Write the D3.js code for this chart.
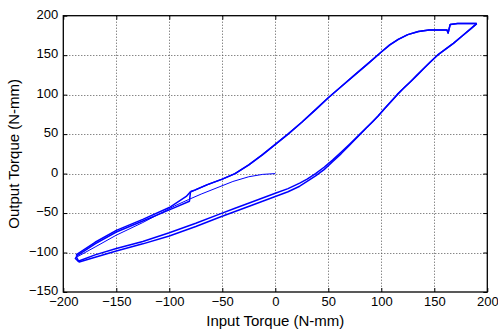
<!DOCTYPE html>
<html>
<head>
<meta charset="utf-8">
<script src="https://cdn.jsdelivr.net/npm/d3@7"></script>
<style>
  body { margin: 0; background: #fff; }
  svg { display: block; font-family: 'Liberation Sans', Arial, sans-serif; }
</style>
</head>
<body>
<div id="chart"></div>
<script>
// axis ticks
const xTicks = [-200, -150, -100, -50, 0, 50, 100, 150, 200];
const yTicks = [-150, -100, -50, 0, 50, 100, 150, 200];

// measured traces, [input torque, output torque] in N-mm
const startTrace = [[0,0],[-12,-1],[-25,-4],[-40,-10],[-55,-18],[-70,-26],[-82,-33],[-95,-41],[-105,-48],
  [-125,-62],[-150,-78],[-170,-93],[-189,-107]];

const lowerBranchA = [[-189,-107],[-186,-111],[-170,-103],[-150,-95],[-125,-86],[-100,-75],[-75,-63],[-52,-51],
  [-38,-44],[-24,-37],[-12,-31],[0,-25],[12,-19],[23,-12],[30,-7],[38,0],[46,8],[54,17],[62,27],[70,37],[80,50],
  [86,58],[92,66],[97,73],[103,82],[109,91],[115,100],[121,108],[128,117],[134,125],[140,133],[146,141],
  [153,150],[160,157],[168,165],[176,174],[184,183],[190,190]];

const lowerBranchB = [[-188,-105],[-185,-112],[-170,-106],[-150,-98],[-125,-89],[-100,-79],[-75,-67],[-52,-55],
  [-38,-48],[-24,-41],[-12,-35],[0,-29],[12,-23],[23,-16],[30,-10],[38,-3],[46,5],[54,15],[62,25],[70,36],[80,50],
  [86,58],[92,66],[97,73],[103,82],[109,91],[115,100],[121,108],[128,117],[134,125],[140,133],[146,141],
  [153,150],[160,157],[168,165],[176,174],[184,183],[190,190]];

const upperBranch = [[190,190],[172,190],[165,189],[163,178],[162,182],[155,182],[145,182],[135,180],[125,176],
  [116,170],[108,163],[100,154],[88,140],[75,125],[62,110],[50,96],[38,81],[25,65],[12,50],[0,37],[-12,24],
  [-25,11],[-38,0],[-50,-7],[-64,-14],[-76,-21],[-80,-23]];

const upperTailA = [[-80,-23],[-81,-35],[-100,-46],[-125,-60],[-150,-74],[-170,-89],[-188,-105]];
const upperTailB = [[-80,-23],[-84,-29],[-100,-43],[-125,-58],[-150,-72],[-170,-87],[-188,-103]];

const traces = [startTrace, lowerBranchA, upperBranch, upperTailA, lowerBranchB, upperBranch, upperTailB];

const width = 498, height = 331;
const margin = {left: 63.3, right: 10.7, top: 15.7, bottom: 39};
const tickLen = 4;

const svg = d3.select('#chart').append('svg')
  .attr('width', width)
  .attr('height', height);

const x = d3.scaleLinear().domain([-200, 200]).range([margin.left, width - margin.right]);
const y = d3.scaleLinear().domain([-150, 200]).range([height - margin.bottom, margin.top]);

// dotted grid
const grid = svg.append('g').attr('class', 'grid')
  .attr('stroke', '#555')
  .attr('stroke-width', 1)
  .attr('stroke-dasharray', '1,2');
grid.selectAll('line.gx').data(xTicks.slice(1, -1)).enter()
  .append('line').attr('class', 'gx')
  .attr('x1', d => Math.round(x(d)) + 0.5).attr('x2', d => Math.round(x(d)) + 0.5)
  .attr('y1', y(200)).attr('y2', y(-150));
grid.selectAll('line.gy').data(yTicks.slice(1, -1)).enter()
  .append('line').attr('class', 'gy')
  .attr('y1', d => Math.round(y(d)) + 0.5).attr('y2', d => Math.round(y(d)) + 0.5)
  .attr('x1', x(-200)).attr('x2', x(200));

// data lines (the first, thin trace is the initial run-in from zero)
const line = d3.line()
  .x(d => x(d[0]))
  .y(d => y(d[1]));

svg.append('g').attr('class', 'lines')
  .selectAll('path').data(traces).enter()
  .append('path')
  .attr('d', line)
  .attr('fill', 'none')
  .attr('stroke', '#0000ff')
  .attr('stroke-width', (d, i) => i === 0 ? 1 : 1.5)
  .attr('stroke-linejoin', 'round');

// axes, ticks pointing inward on all four sides
const styleAxis = (g) => {
  g.select('.domain').remove();
  g.selectAll('.tick line').attr('stroke', '#000');
  g.selectAll('.tick text').attr('fill', '#000').attr('font-size', '13px');
};

svg.append('g')
  .attr('transform', 'translate(0,' + y(-150) + ')')
  .call(d3.axisBottom(x).tickValues(xTicks).tickSizeInner(-tickLen).tickSizeOuter(0).tickPadding(5))
  .call(styleAxis);

svg.append('g')
  .attr('transform', 'translate(' + x(-200) + ',0)')
  .call(d3.axisLeft(y).tickValues(yTicks).tickSizeInner(-tickLen).tickSizeOuter(0).tickPadding(5))
  .call(styleAxis)
  .call(g => g.selectAll('.tick text').attr('dy', '0.2em'));

svg.append('g')
  .attr('transform', 'translate(0,' + y(200) + ')')
  .call(d3.axisTop(x).tickValues(xTicks).tickSizeInner(-tickLen).tickSizeOuter(0).tickFormat(''))
  .call(styleAxis);

svg.append('g')
  .attr('transform', 'translate(' + x(200) + ',0)')
  .call(d3.axisRight(y).tickValues(yTicks).tickSizeInner(-tickLen).tickSizeOuter(0).tickFormat(''))
  .call(styleAxis);

// box
svg.append('rect')
  .attr('x', x(-200)).attr('y', y(200))
  .attr('width', x(200) - x(-200)).attr('height', y(-150) - y(200))
  .attr('fill', 'none')
  .attr('stroke', '#000')
  .attr('stroke-width', 1.3);

// axis titles
svg.append('text')
  .attr('x', (x(-200) + x(200)) / 2)
  .attr('y', 326)
  .attr('text-anchor', 'middle')
  .attr('font-size', '15px')
  .text('Input Torque (N-mm)');

svg.append('text')
  .attr('transform', 'translate(19,' + (y(-150) + y(200)) / 2 + ') rotate(-90)')
  .attr('text-anchor', 'middle')
  .attr('font-size', '15px')
  .text('Output Torque (N-mm)');
</script>
</body>
</html>
